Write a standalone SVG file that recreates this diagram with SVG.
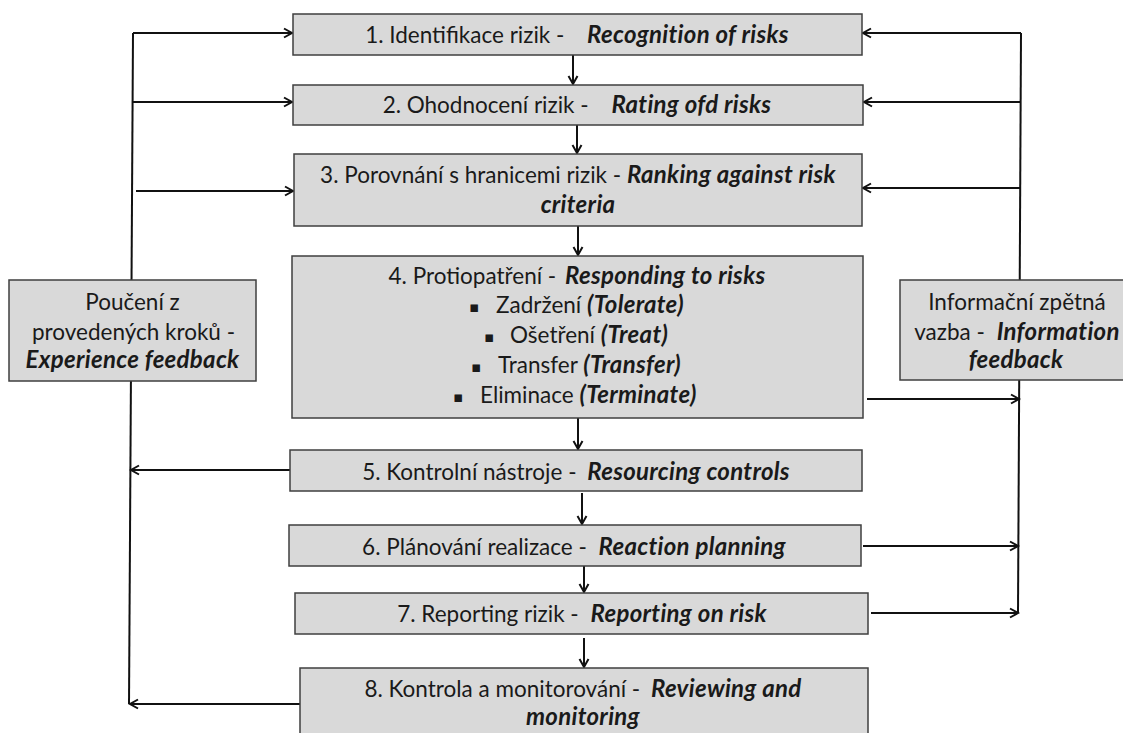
<svg xmlns="http://www.w3.org/2000/svg" width="1123" height="733" viewBox="0 0 1123 733">
<style>
.box{fill:#d9d9d9;stroke:#3f3f3f;stroke-width:1.5}
.t{font-family:Lato,"Open Sans","Liberation Sans",sans-serif;font-size:22.5px;fill:#1a1a1a;text-anchor:middle}
.s{font-family:Lato,"Open Sans","Liberation Sans",sans-serif;font-size:22.5px;fill:#1a1a1a}
.b{font-weight:bold;font-style:italic;font-size:24px;letter-spacing:0.3px}
.bul{font-family:"DejaVu Sans",sans-serif;font-size:15px;fill:#1a1a1a}
.c{fill:none;stroke:#111;stroke-width:2}
</style>
<defs>
<marker id="a" markerUnits="userSpaceOnUse" markerWidth="12" markerHeight="12" refX="9" refY="6" orient="auto">
<path d="M1,1.5 L9,6 L1,10.5" fill="none" stroke="#111" stroke-width="2"/>
</marker>
</defs>
<g id="connectors">
<path class="c" d="M133,33 L129,704"/>
<path class="c" d="M1021,33 L1018,613"/>
<path class="c" marker-end="url(#a)" d="M133,33 H292"/>
<path class="c" marker-end="url(#a)" d="M133,102 H292"/>
<path class="c" marker-end="url(#a)" d="M136,191 H293"/>
<path class="c" marker-end="url(#a)" d="M290,470 H131"/>
<path class="c" marker-end="url(#a)" d="M300,704 H130"/>
<path class="c" marker-end="url(#a)" d="M1021,33 H863"/>
<path class="c" marker-end="url(#a)" d="M1021,102 H864"/>
<path class="c" marker-end="url(#a)" d="M1020,188 H863"/>
<path class="c" marker-end="url(#a)" d="M867,399 H1019"/>
<path class="c" marker-end="url(#a)" d="M863,546 H1018"/>
<path class="c" marker-end="url(#a)" d="M871,613 H1018"/>
<path class="c" marker-end="url(#a)" d="M573,55 V84"/>
<path class="c" marker-end="url(#a)" d="M577,125 V153"/>
<path class="c" marker-end="url(#a)" d="M578,226 V255"/>
<path class="c" marker-end="url(#a)" d="M578,418 V449"/>
<path class="c" marker-end="url(#a)" d="M582,493 V524"/>
<path class="c" marker-end="url(#a)" d="M584,563 V592"/>
<path class="c" marker-end="url(#a)" d="M584,638 V667"/>
</g>
<g id="n1">
<rect class="box" x="293" y="14" width="569" height="41"/>
<text class="t" x="577" y="43">1. Identifikace rizik - <tspan class="b" dx="17">Recognition of risks</tspan></text>
</g>
<g id="n2">
<rect class="box" x="293" y="85" width="570" height="40"/>
<text class="t" x="577" y="113">2. Ohodnocení rizik - <tspan class="b" dx="17">Rating ofd risks</tspan></text>
</g>
<g id="n3">
<rect class="box" x="294" y="154" width="568" height="72"/>
<text class="t" x="578" y="183">3. Porovnání s hranicemi rizik - <tspan class="b">Ranking against risk</tspan></text>
<text class="t b" x="578" y="213">criteria</text>
</g>
<g id="n4">
<rect class="box" x="292" y="256" width="571" height="162"/>
<text class="t" x="577" y="284">4. Protiopatření - <tspan class="b" dx="3">Responding to risks</tspan></text>
<text class="bul" x="469" y="312">▪</text>
<text class="s" x="496" y="313">Zadržení <tspan class="b">(Tolerate)</tspan></text>
<text class="bul" x="484" y="342">▪</text>
<text class="s" x="510" y="343">Ošetření <tspan class="b">(Treat)</tspan></text>
<text class="bul" x="471" y="372">▪</text>
<text class="s" x="498" y="373">Transfer <tspan class="b">(Transfer)</tspan></text>
<text class="bul" x="453" y="402">▪</text>
<text class="s" x="480" y="403">Eliminace <tspan class="b">(Terminate)</tspan></text>
</g>
<g id="n5">
<rect class="box" x="290" y="450" width="572" height="41"/>
<text class="t" x="576" y="480">5. Kontrolní nástroje - <tspan class="b" dx="5">Resourcing controls</tspan></text>
</g>
<g id="n6">
<rect class="box" x="289" y="525" width="572" height="41"/>
<text class="t" x="574" y="555">6. Plánování realizace - <tspan class="b" dx="6">Reaction planning</tspan></text>
</g>
<g id="n7">
<rect class="box" x="295" y="593" width="573" height="41"/>
<text class="t" x="582" y="622">7. Reporting rizik - <tspan class="b" dx="6">Reporting on risk</tspan></text>
</g>
<g id="n8">
<rect class="box" x="300" y="668" width="568" height="80"/>
<text class="t" x="583" y="697">8. Kontrola a monitorování - <tspan class="b" dx="5">Reviewing and</tspan></text>
<text class="t b" x="583" y="725">monitoring</text>
</g>
<g id="left">
<rect class="box" x="9" y="280" width="247" height="101"/>
<text class="t" x="132.5" y="310">Poučení z</text>
<text class="t" x="133.5" y="340">provedených kroků -</text>
<text class="t b" x="132.5" y="368">Experience feedback</text>
</g>
<g id="right">
<rect class="box" x="900" y="280" width="232" height="100"/>
<text class="t" x="1017" y="310">Informační zpětná</text>
<text class="t" x="1017" y="340">vazba - <tspan class="b" dx="6">Information</tspan></text>
<text class="t b" x="1016" y="368">feedback</text>
</g>
</svg>
